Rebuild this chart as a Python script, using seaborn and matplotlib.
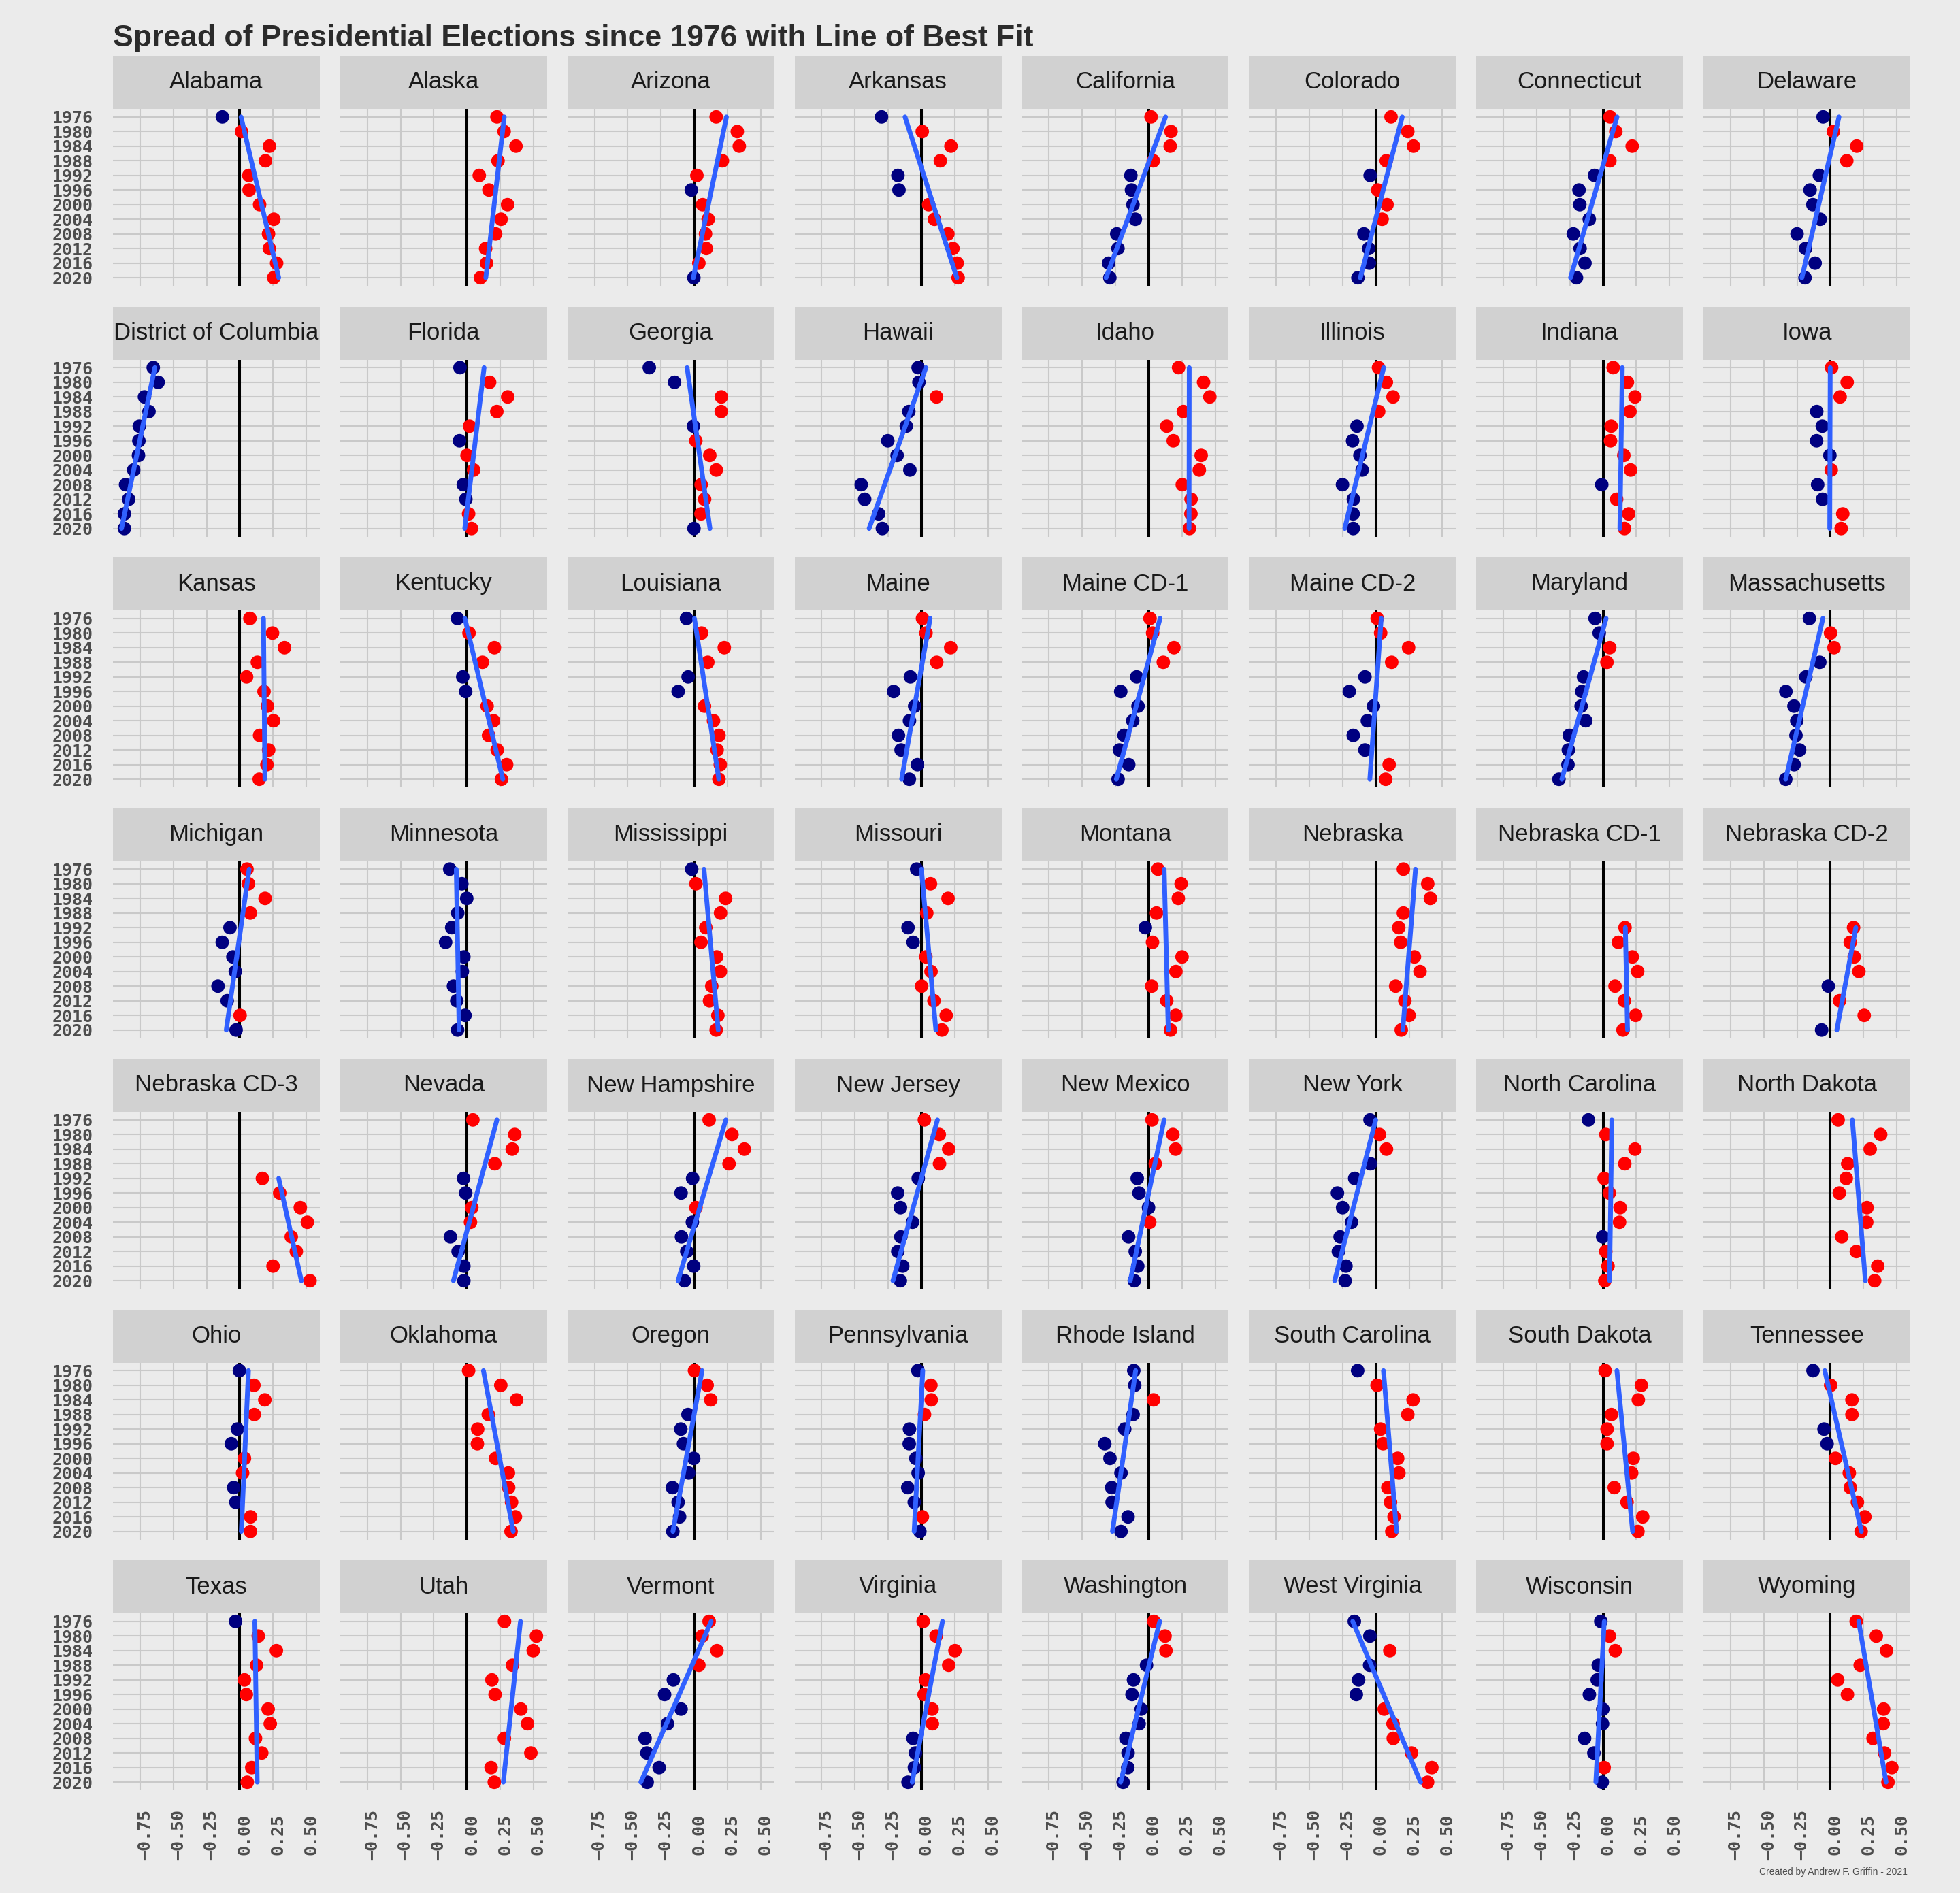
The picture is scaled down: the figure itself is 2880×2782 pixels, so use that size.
import numpy as np
import pandas as pd
import matplotlib
matplotlib.use("Agg")
import matplotlib.pyplot as plt
import matplotlib.transforms as mtransforms
import seaborn as sns

# valores: diferencia (R - D) por eleccion, 1976..2020
years = [1976, 1980, 1984, 1988, 1992, 1996, 2000, 2004, 2008, 2012, 2016, 2020]
nan = np.nan

alabama = [-0.131, 0.013, 0.223, 0.193, 0.068, 0.070, 0.149, 0.256, 0.216, 0.222, 0.277, 0.255]
alaska = [0.225, 0.279, 0.368, 0.233, 0.092, 0.165, 0.305, 0.256, 0.215, 0.140, 0.147, 0.101]
arizona = [0.165, 0.324, 0.339, 0.212, 0.020, -0.022, 0.063, 0.105, 0.085, 0.091, 0.035, -0.003]
arkansas = [-0.300, 0.006, 0.222, 0.142, -0.177, -0.169, 0.054, 0.098, 0.199, 0.237, 0.269, 0.276]
california = [0.018, 0.168, 0.162, 0.035, -0.134, -0.129, -0.118, -0.100, -0.240, -0.231, -0.301, -0.292]
colorado = [0.114, 0.240, 0.283, 0.078, -0.043, 0.014, 0.084, 0.047, -0.090, -0.054, -0.049, -0.135]
connecticut = [0.052, 0.096, 0.219, 0.051, -0.064, -0.181, -0.175, -0.104, -0.224, -0.173, -0.136, -0.200]
delaware = [-0.054, 0.023, 0.199, 0.124, -0.082, -0.152, -0.131, -0.076, -0.250, -0.186, -0.114, -0.190]
dc = [-0.651, -0.614, -0.717, -0.683, -0.756, -0.759, -0.762, -0.798, -0.859, -0.836, -0.868, -0.868]
florida = [-0.053, 0.170, 0.306, 0.224, 0.019, -0.057, 0.0001, 0.050, -0.028, -0.009, 0.012, 0.034]
georgia = [-0.338, -0.148, 0.204, 0.203, -0.006, 0.012, 0.117, 0.166, 0.052, 0.078, 0.051, -0.002]
hawaii = [-0.025, -0.019, 0.113, -0.095, -0.114, -0.253, -0.183, -0.087, -0.453, -0.427, -0.322, -0.294]
idaho = [0.225, 0.413, 0.460, 0.261, 0.136, 0.185, 0.395, 0.381, 0.253, 0.319, 0.318, 0.307]
illinois = [0.020, 0.079, 0.129, 0.021, -0.142, -0.175, -0.120, -0.103, -0.251, -0.169, -0.171, -0.170]
indiana = [0.076, 0.183, 0.240, 0.202, 0.061, 0.056, 0.156, 0.207, -0.010, 0.102, 0.192, 0.161]
iowa = [0.010, 0.127, 0.074, -0.102, -0.060, -0.103, -0.003, 0.007, -0.095, -0.058, 0.094, 0.082]
kansas = [0.076, 0.246, 0.336, 0.132, 0.051, 0.182, 0.208, 0.254, 0.149, 0.217, 0.204, 0.146]
kentucky = [-0.072, 0.015, 0.206, 0.116, -0.032, -0.010, 0.151, 0.199, 0.162, 0.227, 0.298, 0.259]
louisiana = [-0.058, 0.055, 0.226, 0.102, -0.046, -0.121, 0.077, 0.145, 0.186, 0.172, 0.196, 0.186]
maine = [0.008, 0.034, 0.220, 0.115, -0.083, -0.209, -0.051, -0.090, -0.173, -0.153, -0.030, -0.091]
maine_cd1 = [0.010, 0.030, 0.190, 0.110, -0.090, -0.210, -0.080, -0.120, -0.185, -0.220, -0.150, -0.230]
maine_cd2 = [0.010, 0.036, 0.246, 0.119, -0.082, -0.200, -0.018, -0.064, -0.170, -0.082, 0.100, 0.074]
maryland = [-0.060, -0.029, 0.050, 0.029, -0.147, -0.160, -0.165, -0.130, -0.254, -0.261, -0.264, -0.332]
massachusetts = [-0.157, 0.002, 0.028, -0.079, -0.184, -0.334, -0.273, -0.252, -0.258, -0.231, -0.272, -0.335]
michigan = [0.054, 0.065, 0.190, 0.079, -0.074, -0.132, -0.052, -0.034, -0.164, -0.095, 0.002, -0.028]
minnesota = [-0.130, -0.039, -0.002, -0.070, -0.115, -0.161, -0.024, -0.035, -0.102, -0.077, -0.015, -0.071]
mississippi = [-0.019, 0.013, 0.236, 0.198, 0.087, 0.051, 0.169, 0.197, 0.132, 0.115, 0.178, 0.165]
missouri = [-0.036, 0.068, 0.200, 0.040, -0.101, -0.063, 0.033, 0.072, 0.001, 0.094, 0.186, 0.154]
montana = [0.070, 0.244, 0.223, 0.059, -0.025, 0.029, 0.251, 0.205, 0.023, 0.136, 0.204, 0.164]
nebraska = [0.207, 0.390, 0.410, 0.207, 0.172, 0.187, 0.290, 0.332, 0.149, 0.218, 0.250, 0.191]
nebraska_cd1 = [nan, nan, nan, nan, 0.165, 0.115, 0.220, 0.260, 0.090, 0.160, 0.245, 0.150]
nebraska_cd2 = [nan, nan, nan, nan, 0.175, 0.150, 0.180, 0.215, -0.015, 0.070, 0.255, -0.065]
nebraska_cd3 = [nan, nan, nan, nan, 0.170, 0.300, 0.455, 0.508, 0.387, 0.425, 0.250, 0.528]
nevada = [0.044, 0.359, 0.340, 0.209, -0.026, -0.010, 0.036, 0.026, -0.125, -0.067, -0.024, -0.024]
new_hampshire = [0.112, 0.284, 0.377, 0.262, -0.012, -0.099, 0.013, -0.014, -0.096, -0.056, -0.004, -0.074]
new_jersey = [0.022, 0.134, 0.205, 0.136, -0.024, -0.179, -0.158, -0.067, -0.155, -0.178, -0.141, -0.159]
new_mexico = [0.025, 0.182, 0.203, 0.050, -0.086, -0.073, -0.001, 0.008, -0.151, -0.101, -0.082, -0.108]
new_york = [-0.044, 0.027, 0.080, -0.041, -0.159, -0.289, -0.250, -0.183, -0.269, -0.282, -0.225, -0.231]
north_carolina = [-0.110, 0.021, 0.240, 0.163, 0.008, 0.047, 0.128, 0.124, -0.003, 0.020, 0.037, 0.013]
north_dakota = [0.059, 0.379, 0.300, 0.131, 0.120, 0.068, 0.276, 0.274, 0.086, 0.196, 0.357, 0.334]
ohio = [-0.003, 0.106, 0.188, 0.109, -0.018, -0.064, 0.035, 0.021, -0.046, -0.030, 0.081, 0.080]
oklahoma = [0.012, 0.254, 0.373, 0.160, 0.080, 0.078, 0.215, 0.311, 0.313, 0.335, 0.364, 0.331]
oregon = [0.002, 0.097, 0.124, -0.047, -0.101, -0.081, -0.004, -0.042, -0.164, -0.121, -0.110, -0.161]
pennsylvania = [-0.027, 0.071, 0.074, 0.023, -0.090, -0.092, -0.042, -0.025, -0.103, -0.054, 0.007, -0.012]
rhode_island = [-0.112, -0.105, 0.037, -0.117, -0.180, -0.330, -0.291, -0.208, -0.278, -0.275, -0.155, -0.208]
south_carolina = [-0.137, 0.009, 0.280, 0.240, 0.036, 0.055, 0.164, 0.173, 0.090, 0.110, 0.137, 0.120]
south_dakota = [0.015, 0.288, 0.265, 0.063, 0.030, 0.030, 0.227, 0.215, 0.084, 0.180, 0.298, 0.262]
tennessee = [-0.130, 0.003, 0.163, 0.163, -0.047, -0.024, 0.039, 0.143, 0.151, 0.204, 0.260, 0.232]
texas = [-0.032, 0.139, 0.275, 0.126, 0.035, 0.049, 0.213, 0.229, 0.118, 0.165, 0.090, 0.056]
utah = [0.282, 0.522, 0.498, 0.342, 0.187, 0.211, 0.405, 0.455, 0.281, 0.480, 0.181, 0.205]
vermont = [0.112, 0.060, 0.171, 0.035, -0.157, -0.223, -0.099, -0.201, -0.370, -0.356, -0.264, -0.354]
virginia = [0.013, 0.110, 0.252, 0.205, 0.030, 0.020, 0.080, 0.082, -0.063, -0.045, -0.053, -0.101]
washington = [0.039, 0.123, 0.130, -0.016, -0.114, -0.125, -0.056, -0.072, -0.171, -0.155, -0.157, -0.192]
west_virginia = [-0.162, -0.045, 0.105, -0.047, -0.130, -0.147, 0.063, 0.129, 0.131, 0.268, 0.421, 0.389]
wisconsin = [-0.017, 0.047, 0.092, -0.036, -0.044, -0.103, -0.002, -0.004, -0.139, -0.069, 0.008, -0.006]
wyoming = [0.195, 0.346, 0.423, 0.225, 0.056, 0.129, 0.401, 0.398, 0.322, 0.408, 0.463, 0.434]

states = [
    ("Alabama", alabama), ("Alaska", alaska), ("Arizona", arizona), ("Arkansas", arkansas),
    ("California", california), ("Colorado", colorado), ("Connecticut", connecticut),
    ("Delaware", delaware), ("District of Columbia", dc), ("Florida", florida),
    ("Georgia", georgia), ("Hawaii", hawaii), ("Idaho", idaho), ("Illinois", illinois),
    ("Indiana", indiana), ("Iowa", iowa), ("Kansas", kansas), ("Kentucky", kentucky),
    ("Louisiana", louisiana), ("Maine", maine), ("Maine CD-1", maine_cd1),
    ("Maine CD-2", maine_cd2), ("Maryland", maryland), ("Massachusetts", massachusetts),
    ("Michigan", michigan), ("Minnesota", minnesota), ("Mississippi", mississippi),
    ("Missouri", missouri), ("Montana", montana), ("Nebraska", nebraska),
    ("Nebraska CD-1", nebraska_cd1), ("Nebraska CD-2", nebraska_cd2),
    ("Nebraska CD-3", nebraska_cd3), ("Nevada", nevada), ("New Hampshire", new_hampshire),
    ("New Jersey", new_jersey), ("New Mexico", new_mexico), ("New York", new_york),
    ("North Carolina", north_carolina), ("North Dakota", north_dakota), ("Ohio", ohio),
    ("Oklahoma", oklahoma), ("Oregon", oregon), ("Pennsylvania", pennsylvania),
    ("Rhode Island", rhode_island), ("South Carolina", south_carolina),
    ("South Dakota", south_dakota), ("Tennessee", tennessee), ("Texas", texas),
    ("Utah", utah), ("Vermont", vermont), ("Virginia", virginia),
    ("Washington", washington), ("West Virginia", west_virginia),
    ("Wisconsin", wisconsin), ("Wyoming", wyoming),
]

x_ticks = [-0.75, -0.50, -0.25, 0.00, 0.25, 0.50]
x_tick_labels = ["\u22120.75", "\u22120.50", "\u22120.25", "0.00", "0.25", "0.50"]

# tabla larga
rows = []
for name, vals in states:
    for y, v in zip(years, vals):
        if not np.isnan(v):
            rows.append((name, y, v))
df = pd.DataFrame(rows, columns=["state", "year", "spread"])
df["party"] = np.where(df["spread"] > 0, "R", "D")

# estilo
sns.set_theme(style="white")
plt.rcParams["font.family"] = ["Liberation Sans", "DejaVu Sans"]

BG = "#EBEBEB"
STRIP = "#D1D1D1"
GRID = "#C9C9C9"
colores = {"R": "#FF0000", "D": "#000080"}

W, H = 2880, 2782
DPI = 100
PANEL_L, PANEL_W, COL_STEP = 166, 304, 333.86
PANEL_T, PANEL_H, ROW_STEP = 160, 260, 368.5
STRIP_H = 78

fig = plt.figure(figsize=(W / DPI, H / DPI), dpi=DPI, facecolor=BG)

tick_font = dict(family="DejaVu Sans Mono", weight="bold", size=18, color="#4D4D4D")
shift = mtransforms.ScaledTranslation(7 / DPI, 0, fig.dpi_scale_trans)

for i, (name, _) in enumerate(states):
    r, c = divmod(i, 8)
    x0 = PANEL_L + c * COL_STEP
    y0 = PANEL_T + r * ROW_STEP
    sub = df[df["state"] == name]

    ax = fig.add_axes([x0 / W, 1 - (y0 + PANEL_H) / H, PANEL_W / W, PANEL_H / H])
    ax.set_facecolor(BG)
    ax.axvline(0, color="black", lw=2.9, zorder=1)
    sns.scatterplot(data=sub, x="spread", y="year", hue="party", palette=colores,
                    s=205, linewidth=0, legend=False, ax=ax, zorder=2)

    # linea de mejor ajuste (spread ~ year)
    slope, intercept = np.polyfit(sub["year"], sub["spread"], 1)
    fit = pd.DataFrame({"year": [sub["year"].min(), sub["year"].max()]})
    fit["spread"] = intercept + slope * fit["year"]
    sns.lineplot(data=fit, x="spread", y="year", orient="y", color="#3060FF",
                 lw=5, ax=ax, zorder=3)

    ax.set_xlim(-0.954, 0.602)
    ax.set_ylim(2022.2, 1973.8)
    ax.set_xticks(x_ticks)
    ax.set_yticks(years)
    ax.grid(True, color=GRID, lw=1.5)
    ax.set_axisbelow(True)
    for s in ax.spines.values():
        s.set_visible(False)
    ax.set_xlabel("")
    ax.set_ylabel("")
    ax.tick_params(length=0)

    if r == 6:
        ax.set_xticklabels(x_tick_labels, fontdict=tick_font, rotation=90)
        ax.tick_params(axis="x", pad=47)
        for lab in ax.get_xticklabels():
            lab.set_verticalalignment("center")
            lab.set_transform(lab.get_transform() + shift)
    else:
        ax.tick_params(axis="x", labelbottom=False)

    if c == 0:
        ax.set_yticklabels([str(y) for y in years], fontdict=tick_font)
        ax.tick_params(axis="y", pad=21)
    else:
        ax.tick_params(axis="y", labelleft=False)

    # tira con el nombre
    sax = fig.add_axes([x0 / W, 1 - y0 / H, PANEL_W / W, STRIP_H / H])
    sax.set_facecolor(STRIP)
    sax.set_xticks([])
    sax.set_yticks([])
    for s in sax.spines.values():
        s.set_visible(False)
    sax.text(0.5, 0.5, name, ha="center", va="center", fontsize=25, color="#1A1A1A",
             transform=sax.transAxes, clip_on=True)

fig.text(PANEL_L / W, 1 - 68 / H,
         "Spread of Presidential Elections since 1976 with Line of Best Fit",
         ha="left", va="baseline", fontsize=32, fontweight="bold", color="#2B2B2B")
fig.text(2803 / W, 1 - 2751 / H, "Created by Andrew F. Griffin - 2021",
         ha="right", va="center", fontsize=10, color="#4D4D4D")

fig.savefig("out.png", dpi=DPI, facecolor=BG)
